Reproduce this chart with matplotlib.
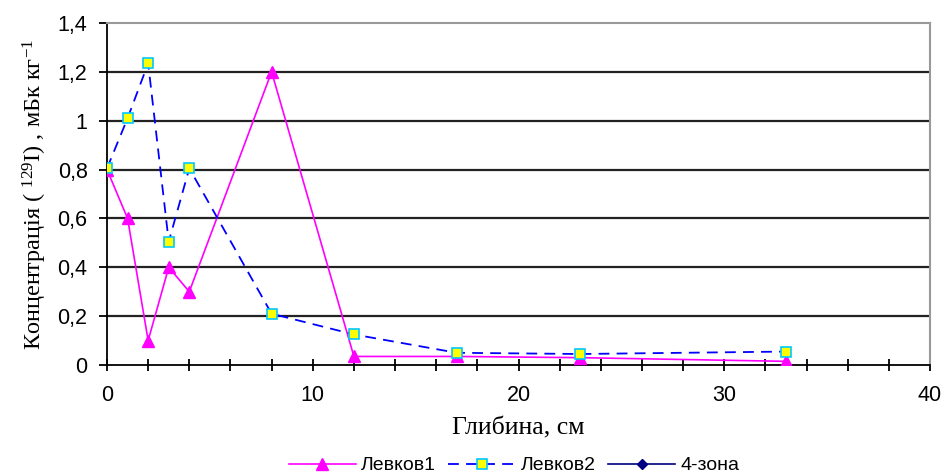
import matplotlib
matplotlib.use("Agg")
import matplotlib.pyplot as plt
from matplotlib.ticker import MultipleLocator, FuncFormatter

# ── data ─────────────────────────────────────────────────────────
depth_1 = [0, 1, 2, 3, 4, 8, 12, 17, 23, 33]
levkov1 = [0.80, 0.60, 0.10, 0.40, 0.30, 1.20, 0.035, 0.035, 0.03, 0.015]

depth_2 = [0, 1, 2, 3, 4, 8, 12, 17, 23, 33]
levkov2 = [0.805, 1.01, 1.235, 0.505, 0.805, 0.21, 0.125, 0.05, 0.045, 0.055]

depth_3 = []
zone4 = []

series_names = ["Левков1", "Левков2", "4-зона"]

# ── plot ─────────────────────────────────────────────────────────
plt.rcParams["mathtext.fontset"] = "custom"
plt.rcParams["mathtext.rm"] = "Liberation Serif"
plt.rcParams["mathtext.it"] = "Liberation Serif:italic"

fig = plt.figure(figsize=(9.44, 4.73), dpi=100)
ax = fig.add_axes([107 / 944, 1 - 365 / 473, (930 - 107) / 944, (365 - 23) / 473])

ax.set_xlim(0, 40)
ax.set_ylim(0, 1.4)

for y in [0.2, 0.4, 0.6, 0.8, 1.0, 1.2]:
    ax.axhline(y, color="#222222", linewidth=1.6, zorder=1)

ax.plot(depth_1, levkov1, color="#ff00ff", linewidth=1.2, marker="^",
        markersize=8, markerfacecolor="#ff00ff", markeredgecolor="#ff00ff",
        label=series_names[0], zorder=3)
ax.plot(depth_2, levkov2, color="#0000ff", linewidth=1.3, linestyle=(0, (6, 4)),
        marker="s", markersize=6.5, markerfacecolor="#ffff00",
        markeredgecolor="#00c8ff", markeredgewidth=1.2,
        label=series_names[1], zorder=4)
ax.plot(depth_3, zone4, color="#000080", linewidth=1.2, marker="D",
        markersize=5, markerfacecolor="#000080", label=series_names[2])

for side in ["top", "right"]:
    ax.spines[side].set_color("#999999")
    ax.spines[side].set_linewidth(1.5)
for side in ["left", "bottom"]:
    ax.spines[side].set_color("black")
    ax.spines[side].set_linewidth(1.3)

ax.xaxis.set_major_locator(MultipleLocator(10))
ax.xaxis.set_minor_locator(MultipleLocator(2))
ax.yaxis.set_major_locator(MultipleLocator(0.2))
ax.tick_params(axis="x", which="both", direction="inout", length=9, width=1.3,
               labelsize=15.5, pad=10)
ax.tick_params(axis="y", which="major", direction="out", length=6, width=1.3,
               labelsize=15.5, pad=8)

fmt = FuncFormatter(lambda v, p: ("%g" % round(v, 1)).replace(".", ","))
ax.yaxis.set_major_formatter(fmt)
for lbl in ax.get_xticklabels() + ax.get_yticklabels():
    lbl.set_family("Liberation Sans")

ax.set_xlabel("Глибина, см", family="Liberation Serif", fontsize=18.5, labelpad=8)
ax.set_ylabel(r"Концентрація ( $^{129}$I) , мБк кг$^{-1}$",
              family="Liberation Serif", fontsize=17.5, labelpad=6)

leg = fig.legend(loc="lower center", bbox_to_anchor=(514 / 944, -0.04), ncol=3,
                 frameon=False, prop={"family": "Liberation Sans", "size": 14},
                 handlelength=3.45, handletextpad=0.26, columnspacing=0.65)

fig.savefig("out.png", dpi=100)
